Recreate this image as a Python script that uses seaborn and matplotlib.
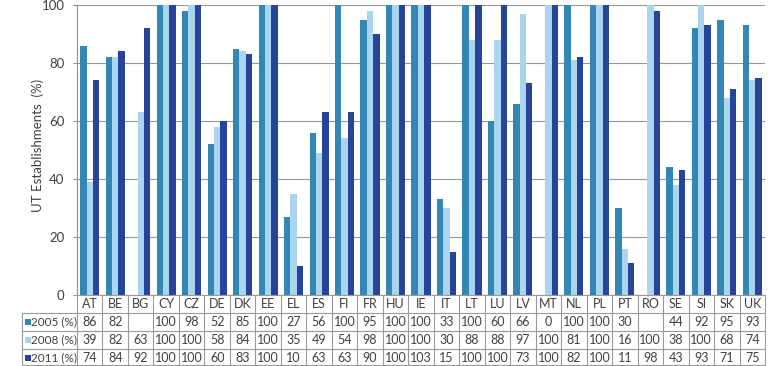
import numpy as np
import pandas as pd
import matplotlib
matplotlib.use("Agg")
import matplotlib.pyplot as plt
import matplotlib.transforms as mtransforms
from matplotlib.patches import Rectangle
import seaborn as sns

countries = ["AT", "BE", "BG", "CY", "CZ", "DE", "DK", "EE", "EL", "ES", "FI", "FR", "HU", "IE",
             "IT", "LT", "LU", "LV", "MT", "NL", "PL", "PT", "RO", "SE", "SI", "SK", "UK"]
v2005 = [86, 82, np.nan, 100, 98, 52, 85, 100, 27, 56, 100, 95, 100, 100,
         33, 100, 60, 66, 0, 100, 100, 30, np.nan, 44, 92, 95, 93]
v2008 = [39, 82, 63, 100, 100, 58, 84, 100, 35, 49, 54, 98, 100, 100,
         30, 88, 88, 97, 100, 81, 100, 16, 100, 38, 100, 68, 74]
v2011 = [74, 84, 92, 100, 100, 60, 83, 100, 10, 63, 63, 90, 100, 103,
         15, 100, 100, 73, 100, 82, 100, 11, 98, 43, 93, 71, 75]
series_names = ["2005 (%)", "2008 (%)", "2011 (%)"]
colors = ["#3387b5", "#aad5ef", "#27449a"]
yticks = [0, 20, 40, 60, 80, 100]

rows = []
for name, vals in zip(series_names, [v2005, v2008, v2011]):
    for c, v in zip(countries, vals):
        rows.append({"country": c, "series": name, "value": v})
df = pd.DataFrame(rows)

sns.set_style("white")
plt.rcParams["font.family"] = ["Lato", "DejaVu Sans"]

W, H = 769, 366
fig = plt.figure(figsize=(W / 100, H / 100), dpi=100)
ax_l, ax_r, ax_t, ax_b = 77, 765, 5, 295
ax = fig.add_axes([ax_l / W, 1 - ax_b / H, (ax_r - ax_l) / W, (ax_b - ax_t) / H])

sns.barplot(data=df, x="country", y="value", hue="series", order=countries,
            hue_order=series_names, palette=colors, width=0.75, saturation=1,
            edgecolor="none", linewidth=0, ax=ax, legend=False, errorbar=None)

n = len(countries)
ax.set_xlim(-0.5, n - 0.5)
ax.set_ylim(0, 100)
ax.set_yticks(yticks)
ax.set_yticklabels([str(t) for t in yticks], fontsize=9.5, color="#404040")
ax.set_xticks([])
ax.set_xlabel("")
ax.set_ylabel("")
ax.tick_params(axis="y", length=3, width=0.8, color="#909090", pad=6, left=True)
ax.yaxis.grid(True, color="#959595", linewidth=0.8)
ax.set_axisbelow(True)
for s in ["top", "right", "bottom"]:
    ax.spines[s].set_visible(False)
ax.spines["left"].set_color("#909090")
ax.spines["left"].set_linewidth(0.8)

fig.text(38 / W, 1 - 145 / H, "UT Establishments  (%)", rotation=90, ha="center",
         va="center", fontsize=9.5, color="#404040")

# data table
tr = mtransforms.blended_transform_factory(ax.transData, fig.transFigure)
def fy(px):
    return 1 - px / H

line_c = "#9a9a9a"
hdr_y, r1, r2, r3 = 304, 322, 340, 358
h_lines = [313, 331, 349, 365]
left_px = 22

for hl in h_lines:
    fig.add_artist(plt.Line2D([left_px / W, ax_r / W], [fy(hl), fy(hl)],
                              transform=fig.transFigure, color=line_c, linewidth=0.8))
fig.add_artist(plt.Line2D([left_px / W, left_px / W], [fy(313), fy(365)],
                          transform=fig.transFigure, color=line_c, linewidth=0.8))
for i in range(n + 1):
    x = i - 0.5
    fig.add_artist(plt.Line2D([x, x], [fy(ax_b), fy(365)], transform=tr,
                              color=line_c, linewidth=0.8))
fig.add_artist(plt.Line2D([ax_l / W, ax_r / W], [fy(ax_b), fy(ax_b)],
                          transform=fig.transFigure, color=line_c, linewidth=0.8))

for i, c in enumerate(countries):
    fig.text(i, fy(hdr_y), c, transform=tr, ha="center", va="center",
             fontsize=9, color="#404040")

for name, vals, col, ry in zip(series_names, [v2005, v2008, v2011], colors, [r1, r2, r3]):
    fig.add_artist(Rectangle((25 / W, fy(ry + 3)), 6 / W, 6 / H,
                             transform=fig.transFigure, facecolor=col, edgecolor="none"))
    fig.text(31 / W, fy(ry), name, ha="left", va="center", fontsize=8.5, color="#404040")
    for i, v in enumerate(vals):
        if not np.isnan(v):
            fig.text(i, fy(ry), f"{int(v)}", transform=tr, ha="center", va="center",
                     fontsize=9, color="#404040")

fig.savefig("out.png", dpi=100)
